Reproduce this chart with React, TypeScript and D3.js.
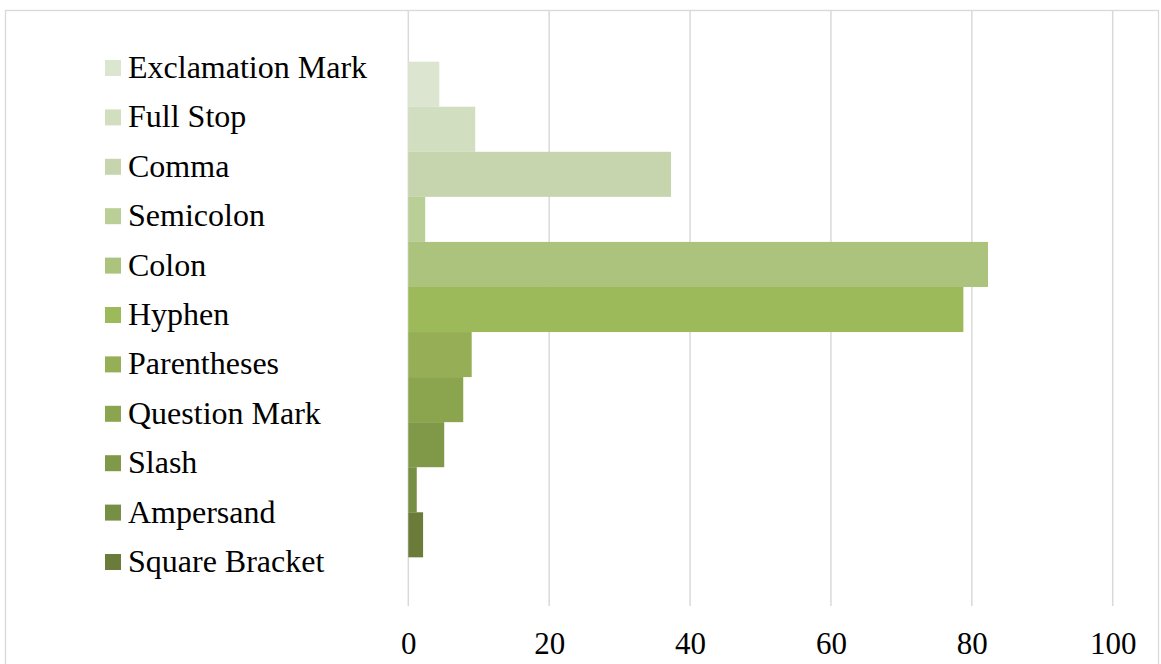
import { useEffect, useRef } from 'react';
import * as d3 from 'd3';

// punctuation marks, top to bottom as in the legend
const marks = [
  'Exclamation Mark',
  'Full Stop',
  'Comma',
  'Semicolon',
  'Colon',
  'Hyphen',
  'Parentheses',
  'Question Mark',
  'Slash',
  'Ampersand',
  'Square Bracket',
];

const values = [4.4, 9.5, 37.3, 2.4, 82.3, 78.8, 9.0, 7.8, 5.1, 1.2, 2.1];

const colors = [
  '#dce5cf',
  '#d2dec0',
  '#c6d5ad',
  '#bace98',
  '#abc37d',
  '#9dba5a',
  '#96af56',
  '#8ba44e',
  '#809949',
  '#778f44',
  '#6a7b3a',
];

const xTicks = [0, 20, 40, 60, 80, 100];

export default function App() {
  const svgRef = useRef<SVGSVGElement>(null);

  useEffect(() => {
    if (!svgRef.current) return;
    const width = 1161;
    const height = 664;
    const font = '"Liberation Serif", "Times New Roman", serif';

    const svg = d3.select(svgRef.current);
    svg.selectAll('*').remove();
    svg.attr('width', width).attr('height', height);

    const plotTop = 11;
    const plotBottom = 606;

    // chart frame
    svg.append('rect')
      .attr('x', 5.5)
      .attr('y', 10.5)
      .attr('width', 1153)
      .attr('height', 700)
      .attr('fill', '#fff')
      .attr('stroke', '#d9d9d9')
      .attr('stroke-width', 1.3);

    const x = d3.scaleLinear().domain([0, 100]).range([408.3, 1112.7]);
    const y = d3.scaleBand<string>()
      .domain(marks)
      .range([plotTop + 2, plotBottom])
      .paddingInner(0)
      .paddingOuter(1.08);

    // gridlines
    svg.append('g')
      .selectAll('line')
      .data(xTicks)
      .enter()
      .append('line')
      .attr('x1', d => x(d))
      .attr('x2', d => x(d))
      .attr('y1', plotTop)
      .attr('y2', plotBottom)
      .attr('stroke', '#d9d9d9')
      .attr('stroke-width', 1.5);

    // bars
    svg.append('g')
      .selectAll('rect')
      .data(marks)
      .enter()
      .append('rect')
      .attr('x', x(0))
      .attr('y', d => y(d) || 0)
      .attr('width', (d, i) => x(values[i]) - x(0))
      .attr('height', y.bandwidth())
      .attr('fill', (d, i) => colors[i]);

    // x axis labels
    const axis = svg.append('g')
      .attr('transform', `translate(0, 654)`)
      .call(d3.axisBottom(x).tickValues(xTicks).tickSize(0).tickPadding(0).tickFormat(d3.format('d')));
    axis.select('.domain').remove();
    axis.selectAll('text')
      .attr('dy', 0)
      .attr('y', 0)
      .style('font-family', font)
      .style('font-size', '31px')
      .style('fill', '#000');

    // legend
    const legend = svg.append('g');
    const rows = legend.selectAll('g')
      .data(marks)
      .enter()
      .append('g')
      .attr('transform', (d, i) => `translate(105, ${68 + i * 49.4})`);
    rows.append('rect')
      .attr('x', 0)
      .attr('y', -8)
      .attr('width', 16)
      .attr('height', 16)
      .attr('fill', (d, i) => colors[i]);
    rows.append('text')
      .attr('x', 23)
      .attr('y', 10)
      .style('font-family', font)
      .style('font-size', '32px')
      .style('fill', '#000')
      .text(d => d);
  }, []);

  return (
    <div style={{ position: 'absolute', left: 0, top: 0, width: 1161, height: 664, overflow: 'hidden', background: '#fff' }}>
      <svg ref={svgRef}></svg>
    </div>
  );
}
